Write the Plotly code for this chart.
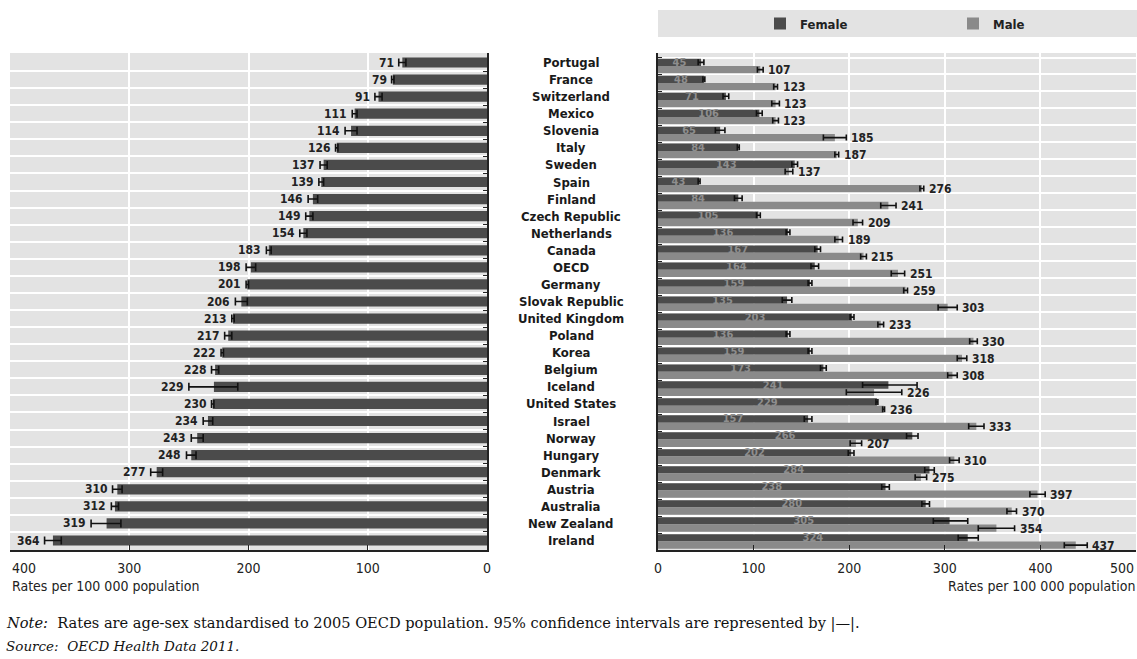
import plotly.graph_objects as go

# Countries, top to bottom
countries = [
    "Portugal", "France", "Switzerland", "Mexico", "Slovenia", "Italy", "Sweden",
    "Spain", "Finland", "Czech Republic", "Netherlands", "Canada", "OECD",
    "Germany", "Slovak Republic", "United Kingdom", "Poland", "Korea", "Belgium",
    "Iceland", "United States", "Israel", "Norway", "Hungary", "Denmark",
    "Austria", "Australia", "New Zealand", "Ireland",
]

# Total rates per 100 000 population with 95% confidence limits
total = [71, 79, 91, 111, 114, 126, 137, 139, 146, 149, 154, 183, 198, 201, 206,
         213, 217, 222, 228, 229, 230, 234, 243, 248, 277, 310, 312, 319, 364]
total_lo = [68, 78, 88, 109, 109, 125, 134, 137, 142, 146, 151, 181, 194, 200, 201,
            212, 214, 221, 225, 209, 229, 230, 238, 244, 272, 306, 309, 307, 357]
total_hi = [74, 80, 94, 113, 119, 127, 140, 141, 150, 152, 157, 185, 202, 202, 211,
            214, 220, 223, 231, 250, 231, 238, 248, 252, 282, 314, 315, 332, 371]

# Female rates with 95% confidence limits
female = [45, 48, 71, 106, 65, 84, 143, 43, 84, 105, 136, 167, 164, 159, 135,
          203, 136, 159, 173, 241, 229, 157, 266, 202, 284, 238, 280, 305, 324]
female_lo = [42, 47, 68, 103, 60, 83, 140, 42, 80, 103, 134, 164, 160, 157, 130,
             201, 134, 157, 170, 214, 228, 153, 260, 199, 279, 234, 276, 288, 314]
female_hi = [48, 49, 74, 109, 70, 85, 146, 44, 88, 107, 138, 170, 168, 161, 140,
             205, 138, 161, 176, 271, 230, 161, 272, 205, 289, 242, 284, 324, 335]

# Male rates with 95% confidence limits
male = [107, 123, 123, 123, 185, 187, 137, 276, 241, 209, 189, 215, 251, 259, 303,
        233, 330, 318, 308, 226, 236, 333, 207, 310, 275, 397, 370, 354, 437]
male_lo = [104, 121, 119, 120, 173, 185, 133, 274, 233, 204, 185, 212, 244, 257, 293,
           230, 326, 313, 303, 197, 235, 325, 201, 305, 269, 389, 365, 335, 425]
male_hi = [110, 125, 127, 126, 197, 189, 141, 278, 249, 214, 193, 218, 258, 261, 313,
           236, 334, 323, 313, 255, 237, 341, 213, 315, 281, 405, 375, 373, 449]

left_ticks = [0, 100, 200, 300, 400]
right_ticks = [0, 100, 200, 300, 400, 500]
axis_title = "Rates per 100 000 population"
note = ("<i>Note:</i>  Rates are age-sex standardised to 2005 OECD population. "
        "95% confidence intervals are represented by |\u2014|.")
source = "<i>Source:  OECD Health Data 2011.</i>"

W, H = 1137, 659
TOP, BOTTOM = 53, 550
COND = "DejaVu Sans Condensed, Liberation Sans Narrow, Arial Narrow, sans-serif"
SERIF = "DejaVu Serif, Liberation Serif, serif"
BG = "#e3e3e3"
DARK = "#4b4b4b"
MID = "#8a8a8a"
INK = "#222222"
TICK_Y = 568


def fx(px):
    return px / W


def fy(px):
    return (BOTTOM - px) / (BOTTOM - TOP)


def err(v, lo, hi, cap):
    return dict(type="data", symmetric=False,
                array=[h - a for a, h in zip(v, hi)],
                arrayminus=[a - l for a, l in zip(v, lo)],
                color="#111111", thickness=1.6, width=cap)


fig = go.Figure()

fig.add_trace(go.Bar(
    x=total, y=countries, orientation="h", xaxis="x", yaxis="y",
    marker=dict(color=DARK, line=dict(width=0)), width=0.6, offset=-0.3,
    error_x=err(total, total_lo, total_hi, 4), showlegend=False,
))

fig.add_trace(go.Bar(
    x=female, y=countries, orientation="h", xaxis="x2", yaxis="y2", name="Female",
    marker=dict(color=DARK, line=dict(width=0)), legend="legend",
    text=female, textposition="inside", insidetextanchor="middle",
    constraintext="none", cliponaxis=False,
    textfont=dict(family=COND, size=11, color="#8e8e8e", weight="bold"),
    error_x=err(female, female_lo, female_hi, 3),
))

fig.add_trace(go.Bar(
    x=male, y=countries, orientation="h", xaxis="x2", yaxis="y2", name="Male",
    marker=dict(color=MID, line=dict(width=0)), legend="legend2",
    error_x=err(male, male_lo, male_hi, 3),
))

annotations = []

# Total value labels, placed beyond the upper confidence limit
for c, v, h in zip(countries, total, total_hi):
    annotations.append(dict(
        x=h, y=c, xref="x", yref="y", text=str(v), showarrow=False,
        xanchor="right", xshift=-3,
        font=dict(family=COND, size=12, color=INK, weight="bold"),
    ))

# Male value labels, to the right of the male bar's confidence interval
for c, v, h in zip(countries, male, male_hi):
    annotations.append(dict(
        x=h, y=c, xref="x2", yref="y2", text=str(v), showarrow=False,
        xanchor="left", xshift=3, yshift=-4,
        font=dict(family=COND, size=12, color=INK, weight="bold"),
    ))

# Country names between the two panels
for c in countries:
    annotations.append(dict(
        x=fx(571), y=c, xref="paper", yref="y", text=c, showarrow=False,
        xanchor="center",
        font=dict(family=COND, size=13, color="#1a1a1a", weight="bold"),
    ))

tick_font = dict(family=COND, size=14, color=INK)

# Outermost tick labels sit inside the panel edge
annotations += [
    dict(x=left_ticks[-1], y=fy(TICK_Y), xref="x", yref="paper",
         text=str(left_ticks[-1]), showarrow=False, xanchor="left",
         yanchor="middle", font=tick_font),
    dict(x=right_ticks[-1], y=fy(TICK_Y), xref="x2", yref="paper",
         text=str(right_ticks[-1]), showarrow=False, xanchor="right",
         yanchor="middle", font=tick_font),
]

annotations += [
    dict(x=fx(10), y=fy(586), xref="paper", yref="paper", text=axis_title,
         showarrow=False, xanchor="left", yanchor="middle",
         font=dict(family=COND, size=14, color=INK)),
    dict(x=1.0, y=fy(586), xref="paper", yref="paper", text=axis_title,
         showarrow=False, xanchor="right", yanchor="middle",
         font=dict(family=COND, size=14, color=INK)),
    dict(x=fx(4), y=fy(623), xref="paper", yref="paper", text=note,
         showarrow=False, xanchor="left", yanchor="middle",
         font=dict(family=SERIF, size=14.6, color="#111")),
    dict(x=fx(4), y=fy(646), xref="paper", yref="paper", text=source,
         showarrow=False, xanchor="left", yanchor="middle",
         font=dict(family=SERIF, size=13.5, color="#111")),
]

cat_axis = dict(
    type="category", categoryorder="array", categoryarray=countries,
    autorange="reversed", tickson="boundaries", showgrid=True,
    gridcolor="white", gridwidth=2, ticks="inside", ticklen=4,
    tickcolor=INK, showticklabels=False, showline=True,
    linecolor=INK, linewidth=2, domain=[0, 1], fixedrange=True,
    automargin=False,
)

val_axis = dict(
    showgrid=True, gridcolor="white", gridwidth=2, zeroline=False,
    ticks="inside", ticklen=5, tickcolor=INK, showline=True,
    linecolor=INK, linewidth=2, ticklabelstandoff=4, automargin=False,
    tickfont=tick_font,
)


def tick_labels(ticks):
    # last label is drawn separately, aligned inward
    return [str(t) for t in ticks[:-1]] + [""]


legend_style = dict(orientation="h", xanchor="left", y=fy(23.5),
                    yanchor="middle", bgcolor="rgba(0,0,0,0)",
                    font=dict(family=COND, size=13, color=INK, weight="bold"))

fig.update_layout(
    width=W, height=H,
    margin=dict(l=0, r=0, t=TOP, b=H - BOTTOM, autoexpand=False),
    paper_bgcolor="white", plot_bgcolor=BG,
    barmode="group", bargap=0.14, bargroupgap=0,
    xaxis=dict(val_axis, domain=[fx(10), fx(487)], range=[max(left_ticks), 0],
               tickvals=left_ticks, ticktext=tick_labels(left_ticks), anchor="y"),
    yaxis=dict(cat_axis, side="right", anchor="x"),
    xaxis2=dict(val_axis, domain=[fx(658), fx(1136)], range=[0, max(right_ticks)],
                tickvals=right_ticks, ticktext=tick_labels(right_ticks), anchor="y2"),
    yaxis2=dict(cat_axis, side="left", anchor="x2"),
    showlegend=True,
    legend=dict(legend_style, x=fx(760)),
    legend2=dict(legend_style, x=fx(953)),
    shapes=[dict(type="rect", xref="paper", yref="paper",
                 x0=fx(658), x1=1.0, y0=fy(37), y1=fy(10),
                 fillcolor=BG, line=dict(width=0), layer="below")],
    annotations=annotations,
)

fig.write_html("out.html")
